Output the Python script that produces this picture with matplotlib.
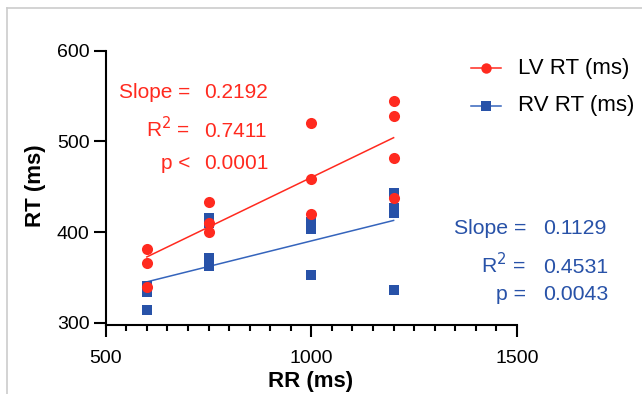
import numpy as np
import matplotlib
matplotlib.use('Agg')
import matplotlib.pyplot as plt
from matplotlib.lines import Line2D
from matplotlib.ticker import MultipleLocator

plt.rcParams['font.family'] = ['Liberation Sans', 'DejaVu Sans']

# data
lv_rr = [600, 600, 600, 750, 750, 750, 1000, 1000, 1000, 1200, 1200, 1200, 1200]
lv_rt = [381, 366, 339, 433, 410, 400, 520, 458, 420, 544, 528, 482, 438]
rv_rr = [600, 600, 600, 750, 750, 750, 750, 1000, 1000, 1000, 1200, 1200, 1200, 1200]
rv_rt = [341, 334, 314, 416, 410, 371, 362, 411, 403, 353, 443, 426, 421, 336]

# regression lines: slope from the chart text, intercept
lv_fit = (0.2192, 241.0)
rv_fit = (0.1129, 277.3)

lv_stats = [('Slope =', '0.2192'), ('R$^2$ =', '0.7411'), ('p <', '0.0001')]
rv_stats = [('Slope =', '0.1129'), ('R$^2$ =', '0.4531'), ('p =', '0.0043')]

red = '#FF2A1F'
blue = '#2852A8'
blue_line = '#3564BC'

W, H = 642, 394
fig = plt.figure(figsize=(W / 100, H / 100), dpi=100)


def px(x, y):
    return x / W, 1 - y / H


# axes placement in pixels
x0, x1 = 105.7, 517
ytop, ybot = 50.7, 325.4
ax = fig.add_axes([x0 / W, 1 - ybot / H, (x1 - x0) / W, (ybot - ytop) / H])

ax.scatter(lv_rr, lv_rt, s=64, marker='o', color=red, zorder=4, linewidths=0)
ax.scatter(rv_rr, rv_rt, s=56, marker='s', color=blue, zorder=3, linewidths=0)

for xs, (k, b), c in [(lv_rr, lv_fit, red), (rv_rr, rv_fit, blue_line)]:
    xx = np.array([min(xs), max(xs)])
    ax.plot(xx, k * xx + b, color=c, lw=1.1, zorder=2)

ax.set_xlim(500, 1500)
ax.set_ylim(297, 600)
ax.set_xticks([500, 1000, 1500])
ax.set_yticks([300, 400, 500, 600])
ax.xaxis.set_minor_locator(MultipleLocator(50))
ax.spines['top'].set_visible(False)
ax.spines['right'].set_visible(False)
ax.spines['left'].set_linewidth(1.5)
ax.spines['bottom'].set_linewidth(1.5)
ax.spines['left'].set_bounds(297, 600)
ax.tick_params(which='major', length=8.5, width=1.5, labelsize=14, color='black')
ax.tick_params(axis='x', which='major', pad=9)
ax.tick_params(axis='y', which='major', pad=3)
ax.tick_params(which='minor', length=4.5, width=1.5)

fig.text(*px(311, 381), 'RR (ms)', fontsize=16, fontweight='bold', ha='center', va='center')
fig.text(*px(36, 186), 'RT (ms)', fontsize=16, fontweight='bold', ha='center', va='center',
         rotation=90)

# stats text
for (lab, val), yb in zip(lv_stats, [98.3, 136.7, 169.3]):
    fig.text(*px(190, yb), lab, color=red, fontsize=15, ha='right', va='baseline')
    fig.text(*px(204, yb), val, color=red, fontsize=15, ha='left', va='baseline')
for (lab, val), yb in zip(rv_stats, [234.3, 272.7, 300]):
    fig.text(*px(526, yb), lab, color=blue, fontsize=15.3, ha='right', va='baseline')
    fig.text(*px(543, yb), val, color=blue, fontsize=15.3, ha='left', va='baseline')

# legend drawn by hand
for name, yc, c, lc, m in [('LV RT (ms)', 68.3, red, red, 'o'),
                           ('RV RT (ms)', 106, blue, blue_line, 's')]:
    fig.add_artist(Line2D([471 / W, 501 / W], [1 - yc / H] * 2, color=lc, lw=1.1))
    fig.add_artist(Line2D([486 / W], [1 - yc / H], marker=m, markersize=7.5,
                          color=c, markeredgewidth=0))
    fig.text(*px(518, yc), name, fontsize=16, ha='left', va='center')

# grey frame lines at top and left
fig.add_artist(Line2D([7 / W, 7 / W], [0, 1 - 7.5 / H], color='#cccccc', lw=1.2))
fig.add_artist(Line2D([7 / W, 1], [1 - 7.5 / H] * 2, color='#cccccc', lw=1.2))

fig.savefig('out.png', dpi=100)
